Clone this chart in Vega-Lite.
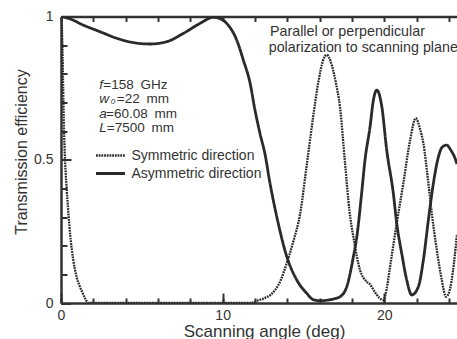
{
  "$schema": "https://vega.github.io/schema/vega-lite/v6.json",
  "width": 396,
  "height": 286.5,
  "autosize": {"type": "none"},
  "padding": {"left": 61, "top": 16.5, "right": 0, "bottom": 36},
  "background": "white",
  "config": {
    "view": {"stroke": null},
    "font": "Liberation Sans",
    "axis": {"labelFont": "Liberation Sans", "titleFont": "Liberation Sans", "labelColor": "#333", "titleColor": "#333", "tickColor": "#333", "domainColor": "#333", "grid": false, "labelOverlap": false, "labelFlush": false},
    "text": {"font": "Liberation Sans", "color": "#333"}
  },
  "datasets": {
    "curves": [
      {"angle": 0, "eff": 1.0, "dir": "Symmetric direction"},
      {"angle": 0.05, "eff": 0.97, "dir": "Symmetric direction"},
      {"angle": 0.1, "eff": 0.86, "dir": "Symmetric direction"},
      {"angle": 0.15, "eff": 0.7, "dir": "Symmetric direction"},
      {"angle": 0.2, "eff": 0.58, "dir": "Symmetric direction"},
      {"angle": 0.25, "eff": 0.5, "dir": "Symmetric direction"},
      {"angle": 0.35, "eff": 0.4, "dir": "Symmetric direction"},
      {"angle": 0.45, "eff": 0.32, "dir": "Symmetric direction"},
      {"angle": 0.6, "eff": 0.22, "dir": "Symmetric direction"},
      {"angle": 0.76, "eff": 0.15, "dir": "Symmetric direction"},
      {"angle": 0.97, "eff": 0.09, "dir": "Symmetric direction"},
      {"angle": 1.15, "eff": 0.06, "dir": "Symmetric direction"},
      {"angle": 1.3, "eff": 0.04, "dir": "Symmetric direction"},
      {"angle": 1.5, "eff": 0.015, "dir": "Symmetric direction"},
      {"angle": 1.7, "eff": 0.0, "dir": "Symmetric direction"},
      {"angle": 11.8, "eff": 0.0, "dir": "Symmetric direction"},
      {"angle": 12.0, "eff": 0.005, "dir": "Symmetric direction"},
      {"angle": 12.5, "eff": 0.015, "dir": "Symmetric direction"},
      {"angle": 13.0, "eff": 0.03, "dir": "Symmetric direction"},
      {"angle": 13.24, "eff": 0.045, "dir": "Symmetric direction"},
      {"angle": 13.6, "eff": 0.08, "dir": "Symmetric direction"},
      {"angle": 13.97, "eff": 0.14, "dir": "Symmetric direction"},
      {"angle": 14.4, "eff": 0.22, "dir": "Symmetric direction"},
      {"angle": 14.79, "eff": 0.31, "dir": "Symmetric direction"},
      {"angle": 15.2, "eff": 0.48, "dir": "Symmetric direction"},
      {"angle": 15.6, "eff": 0.65, "dir": "Symmetric direction"},
      {"angle": 15.92, "eff": 0.77, "dir": "Symmetric direction"},
      {"angle": 16.2, "eff": 0.845, "dir": "Symmetric direction"},
      {"angle": 16.44, "eff": 0.866, "dir": "Symmetric direction"},
      {"angle": 16.7, "eff": 0.84, "dir": "Symmetric direction"},
      {"angle": 17.0, "eff": 0.77, "dir": "Symmetric direction"},
      {"angle": 17.26, "eff": 0.685, "dir": "Symmetric direction"},
      {"angle": 17.57, "eff": 0.49, "dir": "Symmetric direction"},
      {"angle": 17.85, "eff": 0.32, "dir": "Symmetric direction"},
      {"angle": 18.09, "eff": 0.23, "dir": "Symmetric direction"},
      {"angle": 18.5, "eff": 0.115, "dir": "Symmetric direction"},
      {"angle": 18.9, "eff": 0.075, "dir": "Symmetric direction"},
      {"angle": 19.12, "eff": 0.065, "dir": "Symmetric direction"},
      {"angle": 19.4, "eff": 0.04, "dir": "Symmetric direction"},
      {"angle": 19.7, "eff": 0.018, "dir": "Symmetric direction"},
      {"angle": 19.95, "eff": 0.01, "dir": "Symmetric direction"},
      {"angle": 20.15, "eff": 0.05, "dir": "Symmetric direction"},
      {"angle": 20.36, "eff": 0.127, "dir": "Symmetric direction"},
      {"angle": 20.77, "eff": 0.278, "dir": "Symmetric direction"},
      {"angle": 21.18, "eff": 0.418, "dir": "Symmetric direction"},
      {"angle": 21.6, "eff": 0.569, "dir": "Symmetric direction"},
      {"angle": 21.95, "eff": 0.645, "dir": "Symmetric direction"},
      {"angle": 22.2, "eff": 0.61, "dir": "Symmetric direction"},
      {"angle": 22.42, "eff": 0.557, "dir": "Symmetric direction"},
      {"angle": 22.73, "eff": 0.418, "dir": "Symmetric direction"},
      {"angle": 22.94, "eff": 0.313, "dir": "Symmetric direction"},
      {"angle": 23.25, "eff": 0.185, "dir": "Symmetric direction"},
      {"angle": 23.56, "eff": 0.08, "dir": "Symmetric direction"},
      {"angle": 23.82, "eff": 0.022, "dir": "Symmetric direction"},
      {"angle": 24.0, "eff": 0.035, "dir": "Symmetric direction"},
      {"angle": 24.17, "eff": 0.08, "dir": "Symmetric direction"},
      {"angle": 24.5, "eff": 0.24, "dir": "Symmetric direction"},
      {"angle": 0, "eff": 1.0, "dir": "Asymmetric direction"},
      {"angle": 0.5, "eff": 0.993, "dir": "Asymmetric direction"},
      {"angle": 1.38, "eff": 0.97, "dir": "Asymmetric direction"},
      {"angle": 2.41, "eff": 0.947, "dir": "Asymmetric direction"},
      {"angle": 3.45, "eff": 0.924, "dir": "Asymmetric direction"},
      {"angle": 4.47, "eff": 0.909, "dir": "Asymmetric direction"},
      {"angle": 5.5, "eff": 0.904, "dir": "Asymmetric direction"},
      {"angle": 6.54, "eff": 0.912, "dir": "Asymmetric direction"},
      {"angle": 7.57, "eff": 0.941, "dir": "Asymmetric direction"},
      {"angle": 8.6, "eff": 0.976, "dir": "Asymmetric direction"},
      {"angle": 9.42, "eff": 0.997, "dir": "Asymmetric direction"},
      {"angle": 9.7, "eff": 0.995, "dir": "Asymmetric direction"},
      {"angle": 10.25, "eff": 0.976, "dir": "Asymmetric direction"},
      {"angle": 10.87, "eff": 0.918, "dir": "Asymmetric direction"},
      {"angle": 11.28, "eff": 0.848, "dir": "Asymmetric direction"},
      {"angle": 11.7, "eff": 0.767, "dir": "Asymmetric direction"},
      {"angle": 12.0, "eff": 0.674, "dir": "Asymmetric direction"},
      {"angle": 12.31, "eff": 0.592, "dir": "Asymmetric direction"},
      {"angle": 12.62, "eff": 0.52, "dir": "Asymmetric direction"},
      {"angle": 12.93, "eff": 0.418, "dir": "Asymmetric direction"},
      {"angle": 13.35, "eff": 0.301, "dir": "Asymmetric direction"},
      {"angle": 13.97, "eff": 0.162, "dir": "Asymmetric direction"},
      {"angle": 14.59, "eff": 0.08, "dir": "Asymmetric direction"},
      {"angle": 15.2, "eff": 0.034, "dir": "Asymmetric direction"},
      {"angle": 15.6, "eff": 0.012, "dir": "Asymmetric direction"},
      {"angle": 16.0, "eff": 0.008, "dir": "Asymmetric direction"},
      {"angle": 16.5, "eff": 0.01, "dir": "Asymmetric direction"},
      {"angle": 16.85, "eff": 0.014, "dir": "Asymmetric direction"},
      {"angle": 17.26, "eff": 0.022, "dir": "Asymmetric direction"},
      {"angle": 17.68, "eff": 0.057, "dir": "Asymmetric direction"},
      {"angle": 18.09, "eff": 0.162, "dir": "Asymmetric direction"},
      {"angle": 18.3, "eff": 0.23, "dir": "Asymmetric direction"},
      {"angle": 18.6, "eff": 0.383, "dir": "Asymmetric direction"},
      {"angle": 18.81, "eff": 0.5, "dir": "Asymmetric direction"},
      {"angle": 19.12, "eff": 0.615, "dir": "Asymmetric direction"},
      {"angle": 19.33, "eff": 0.709, "dir": "Asymmetric direction"},
      {"angle": 19.54, "eff": 0.743, "dir": "Asymmetric direction"},
      {"angle": 19.85, "eff": 0.685, "dir": "Asymmetric direction"},
      {"angle": 20.15, "eff": 0.534, "dir": "Asymmetric direction"},
      {"angle": 20.56, "eff": 0.383, "dir": "Asymmetric direction"},
      {"angle": 20.77, "eff": 0.278, "dir": "Asymmetric direction"},
      {"angle": 21.08, "eff": 0.173, "dir": "Asymmetric direction"},
      {"angle": 21.39, "eff": 0.08, "dir": "Asymmetric direction"},
      {"angle": 21.7, "eff": 0.028, "dir": "Asymmetric direction"},
      {"angle": 22.11, "eff": 0.057, "dir": "Asymmetric direction"},
      {"angle": 22.42, "eff": 0.15, "dir": "Asymmetric direction"},
      {"angle": 22.73, "eff": 0.29, "dir": "Asymmetric direction"},
      {"angle": 23.04, "eff": 0.418, "dir": "Asymmetric direction"},
      {"angle": 23.35, "eff": 0.51, "dir": "Asymmetric direction"},
      {"angle": 23.6, "eff": 0.545, "dir": "Asymmetric direction"},
      {"angle": 23.87, "eff": 0.551, "dir": "Asymmetric direction"},
      {"angle": 24.1, "eff": 0.535, "dir": "Asymmetric direction"},
      {"angle": 24.38, "eff": 0.505, "dir": "Asymmetric direction"},
      {"angle": 24.5, "eff": 0.485, "dir": "Asymmetric direction"}
    ],
    "vars": [
      {"angle": 2.37, "eff": 0.761, "txt": "f"},
      {"angle": 2.37, "eff": 0.711, "txt": "w"},
      {"angle": 2.37, "eff": 0.661, "txt": "a"},
      {"angle": 2.37, "eff": 0.611, "txt": "L"}
    ],
    "rest": [
      {"angle": 2.62, "eff": 0.761, "txt": "=158\u2002GHz"},
      {"angle": 3.45, "eff": 0.711, "txt": "=22\u2002mm"},
      {"angle": 2.79, "eff": 0.661, "txt": "=60.08\u2002mm"},
      {"angle": 2.83, "eff": 0.611, "txt": "=7500\u2002mm"}
    ],
    "subs": [
      {"angle": 3.08, "eff": 0.702, "txt": "0"}
    ],
    "notes": [
      {"angle": 12.93, "eff": 0.947, "txt": "Parallel or perpendicular"},
      {"angle": 12.85, "eff": 0.889, "txt": "polarization to scanning plane"}
    ]
  },
  "resolve": {"axis": {"x": "independent", "y": "independent"}},
  "layer": [
    {
      "data": {"name": "curves"},
      "mark": {"type": "line", "color": "#2a2a2a", "interpolate": "monotone", "clip": true},
      "encoding": {
        "x": {"field": "angle", "type": "quantitative", "scale": {"domain": [0, 24.5], "nice": false, "zero": false},
          "axis": {"orient": "bottom", "values": [0, 10, 20], "format": "d", "tickSize": -10, "tickWidth": 2, "domainWidth": 2.5, "labelPadding": 15, "labelFontSize": 14, "title": "Scanning angle (deg)", "titleFontSize": 17, "titleFontWeight": "normal", "titlePadding": 1, "titleX": 203}},
        "y": {"field": "eff", "type": "quantitative", "scale": {"domain": [0, 1], "nice": false},
          "axis": {"orient": "left", "values": [0, 0.5, 1], "tickSize": -10, "tickWidth": 2, "domainWidth": 2.5, "labelPadding": 18, "labelFontSize": 14, "labelExpr": "datum.value == 0.5 ? '0.5' : format(datum.value, 'd')", "title": "Transmission efficiency", "titleFontSize": 16, "titleFontWeight": "normal", "titlePadding": 4, "titleY": 135}},
        "strokeDash": {"field": "dir", "type": "nominal",
          "scale": {"domain": ["Symmetric direction", "Asymmetric direction"], "range": [[1.8, 0.9], [1, 0]]},
          "legend": {"orient": "none", "legendX": 33.5, "legendY": 130, "title": null, "padding": 0, "symbolType": "stroke", "symbolSize": 841, "symbolStrokeColor": "#2a2a2a", "clipHeight": 18, "rowPadding": 0, "labelOffset": 5, "labelFontSize": 14, "labelColor": "#333", "labelFont": "Liberation Sans"}},
        "strokeWidth": {"field": "dir", "type": "nominal",
          "scale": {"domain": ["Symmetric direction", "Asymmetric direction"], "range": [2.3, 2.8]}}
      }
    },
    {
      "data": {"name": "vars"},
      "mark": {"type": "text", "align": "left", "baseline": "middle", "fontSize": 13.5, "fontStyle": "italic"},
      "encoding": {
        "x": {"field": "angle", "type": "quantitative",
          "axis": {"orient": "bottom", "values": [0, 2, 4, 6, 8, 10, 12, 14, 16, 18, 20, 22, 24], "tickSize": -5, "tickWidth": 2, "labels": false, "domain": false, "title": null}},
        "y": {"field": "eff", "type": "quantitative",
          "axis": {"orient": "left", "values": [0, 0.1, 0.2, 0.3, 0.4, 0.5, 0.6, 0.7, 0.8, 0.9, 1], "tickSize": -6, "tickWidth": 2, "labels": false, "domain": false, "title": null}},
        "text": {"field": "txt"}
      }
    },
    {
      "data": {"name": "rest"},
      "mark": {"type": "text", "align": "left", "baseline": "middle", "fontSize": 13.5},
      "encoding": {
        "x": {"field": "angle", "type": "quantitative",
          "axis": {"orient": "top", "values": [0, 2, 4, 6, 8, 10, 12, 14, 16, 18, 20, 22, 24], "tickSize": -5, "tickWidth": 2, "labels": false, "domain": true, "domainWidth": 2.5, "title": null}},
        "y": {"field": "eff", "type": "quantitative", "axis": null},
        "text": {"field": "txt"}
      }
    },
    {
      "data": {"name": "subs"},
      "mark": {"type": "text", "align": "left", "baseline": "middle", "fontSize": 8, "fontStyle": "italic"},
      "encoding": {
        "x": {"field": "angle", "type": "quantitative", "axis": null},
        "y": {"field": "eff", "type": "quantitative", "axis": null},
        "text": {"field": "txt"}
      }
    },
    {
      "data": {"name": "notes"},
      "mark": {"type": "text", "align": "left", "baseline": "middle", "fontSize": 14.3},
      "encoding": {
        "x": {"field": "angle", "type": "quantitative", "axis": null},
        "y": {"field": "eff", "type": "quantitative", "axis": null},
        "text": {"field": "txt"}
      }
    }
  ]
}
